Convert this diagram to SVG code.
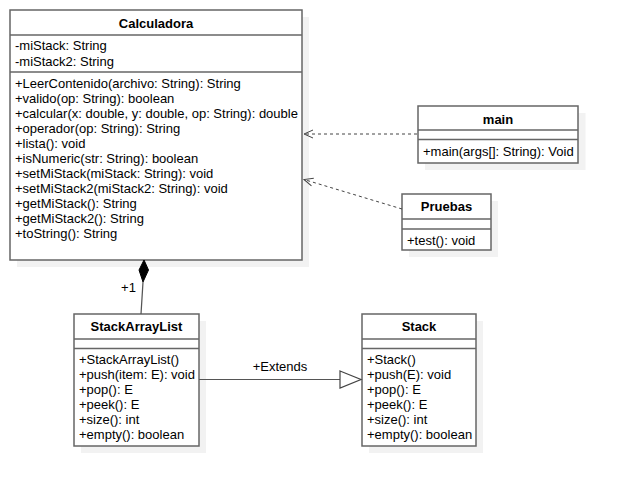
<svg xmlns="http://www.w3.org/2000/svg" width="618" height="486" viewBox="0 0 618 486">
<style>
text{font-family:"Liberation Sans",Arial,sans-serif;font-size:13px;fill:#000}
.t{font-weight:bold;text-anchor:middle}
.box{fill:#fff;stroke:#666;stroke-width:1.5}
.sh{fill:#f2f2f2;stroke:none}
.div{stroke:#666;stroke-width:1.5}
.dash{fill:none;stroke:#444;stroke-width:1;stroke-dasharray:3,3}
.ln{fill:none;stroke:#555;stroke-width:1.2}
</style>
<defs>
<marker id="open" markerWidth="12" markerHeight="12" refX="9" refY="5" orient="auto" markerUnits="userSpaceOnUse" viewBox="-1 0 12 10">
<path d="M0,1 L9,5 L0,9" fill="none" stroke="#444" stroke-width="1"/>
</marker>
</defs>
<rect width="618" height="486" fill="#fff"/>
<g id="Calculadora">
<rect class="sh" x="17" y="17" width="292" height="250"/>
<rect class="box" x="10" y="10" width="292" height="250"/>
<line class="div" x1="10" y1="35" x2="302" y2="35"/>
<line class="div" x1="10" y1="72" x2="302" y2="72"/>
<text class="t" x="156" y="28">Calculadora</text>
<text x="15" y="50">-miStack: String</text>
<text x="15" y="65.5">-miStack2: String</text>
<text x="15" y="88">+LeerContenido(archivo: String): String</text>
<text x="15" y="103">+valido(op: String): boolean</text>
<text x="15" y="118">+calcular(x: double, y: double, op: String): double</text>
<text x="15" y="133">+operador(op: String): String</text>
<text x="15" y="148">+lista(): void</text>
<text x="15" y="163">+isNumeric(str: String): boolean</text>
<text x="15" y="178">+setMiStack(miStack: String): void</text>
<text x="15" y="193">+setMiStack2(miStack2: String): void</text>
<text x="15" y="208">+getMiStack(): String</text>
<text x="15" y="223">+getMiStack2(): String</text>
<text x="15" y="238">+toString(): String</text>
</g>
<g id="main">
<rect class="sh" x="425" y="113" width="160.5" height="57"/>
<rect class="box" x="418" y="106" width="160" height="57"/>
<line class="div" x1="418" y1="130" x2="578" y2="130"/>
<line class="div" x1="418" y1="139.5" x2="578" y2="139.5"/>
<text class="t" x="498" y="124">main</text>
<text x="423" y="156">+main(args[]: String): Void</text>
</g>
<g id="Pruebas">
<rect class="sh" x="409" y="201" width="89" height="56"/>
<rect class="box" x="402" y="194" width="89" height="56"/>
<line class="div" x1="402" y1="219" x2="491" y2="219"/>
<line class="div" x1="402" y1="229" x2="491" y2="229"/>
<text class="t" x="446.5" y="211">Pruebas</text>
<text x="407" y="245">+test(): void</text>
</g>
<g id="StackArrayList">
<rect class="sh" x="81" y="321" width="125" height="132"/>
<rect class="box" x="74" y="314" width="125" height="132"/>
<line class="div" x1="74" y1="339" x2="199" y2="339"/>
<line class="div" x1="74" y1="348.5" x2="199" y2="348.5"/>
<text class="t" x="136.5" y="331">StackArrayList</text>
<text x="79" y="364">+StackArrayList()</text>
<text x="79" y="379">+push(item: E): void</text>
<text x="79" y="394">+pop(): E</text>
<text x="79" y="409">+peek(): E</text>
<text x="79" y="424">+size(): int</text>
<text x="79" y="439">+empty(): boolean</text>
</g>
<g id="Stack">
<rect class="sh" x="369" y="321" width="114" height="132"/>
<rect class="box" x="362" y="314" width="114" height="132"/>
<line class="div" x1="362" y1="339" x2="476" y2="339"/>
<line class="div" x1="362" y1="348.5" x2="476" y2="348.5"/>
<text class="t" x="419" y="331">Stack</text>
<text x="367" y="364">+Stack()</text>
<text x="367" y="379">+push(E): void</text>
<text x="367" y="394">+pop(): E</text>
<text x="367" y="409">+peek(): E</text>
<text x="367" y="424">+size(): int</text>
<text x="367" y="439">+empty(): boolean</text>
</g>
<g id="connectors">
<path class="dash" d="M417,134 L304,134" marker-end="url(#open)"/>
<path class="dash" d="M402,209 L304,179.5" marker-end="url(#open)"/>
<path class="ln" d="M141,314 L143,282"/>
<polygon points="144,260 148.5,270 143,282 139,270" fill="#000" stroke="#000" stroke-width="1"/>
<text x="128.5" y="292" text-anchor="middle">+1</text>
<path class="ln" d="M199,379.5 L340,379.5"/>
<polygon points="340,371 361,379.5 340,388" fill="#fff" stroke="#444" stroke-width="1.2"/>
<text x="280" y="371" text-anchor="middle">+Extends</text>
</g>
</svg>
